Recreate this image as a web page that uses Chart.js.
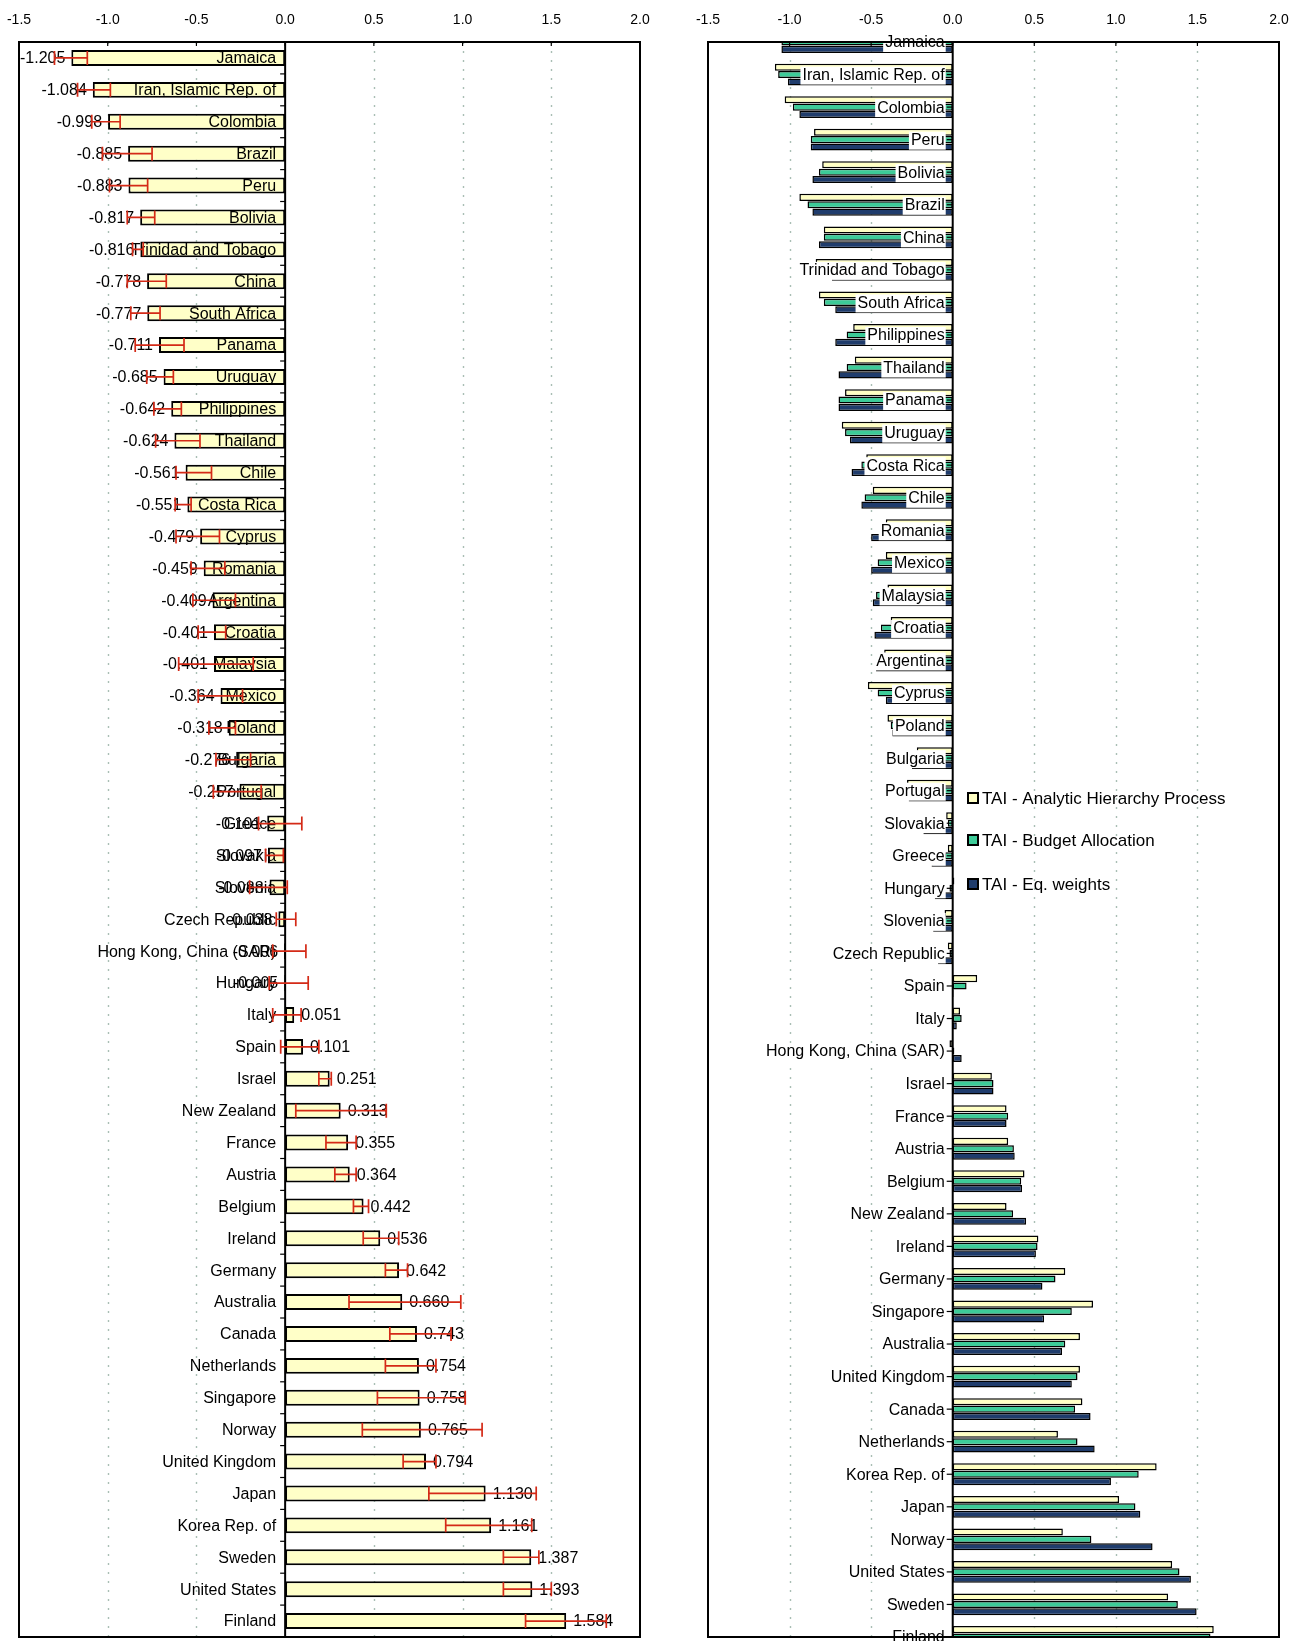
<!DOCTYPE html>
<html>
<head>
<meta charset="utf-8">
<title>Technology Achievement Index</title>
<script src="https://cdn.jsdelivr.net/npm/chart.js@4.4.1/dist/chart.umd.min.js"></script>
<style>
  html, body { margin: 0; padding: 0; background: #ffffff; }
  #wrap { position: relative; width: 1308px; height: 1641px; overflow: hidden; }
  canvas { position: absolute; top: 0; }
  #left { left: 0; }
  #right { left: 654px; }
</style>
</head>
<body>
<div id="wrap">
  <canvas id="left" width="654" height="1641"></canvas>
  <canvas id="right" width="654" height="1641"></canvas>
</div>
<script>
// ---- Panel 1: composite TAI with range ----
const leftCountries = [
  'Jamaica', 'Iran, Islamic Rep. of', 'Colombia', 'Brazil', 'Peru', 'Bolivia',
  'Trinidad and Tobago', 'China', 'South Africa', 'Panama', 'Uruguay', 'Philippines',
  'Thailand', 'Chile', 'Costa Rica', 'Cyprus', 'Romania', 'Argentina', 'Croatia',
  'Malaysia', 'Mexico', 'Poland', 'Bulgaria', 'Portugal', 'Greece', 'Slovakia',
  'Slovenia', 'Czech Republic', 'Hong Kong, China (SAR)', 'Hungary', 'Italy', 'Spain',
  'Israel', 'New Zealand', 'France', 'Austria', 'Belgium', 'Ireland', 'Germany',
  'Australia', 'Canada', 'Netherlands', 'Singapore', 'Norway', 'United Kingdom',
  'Japan', 'Korea Rep. of', 'Sweden', 'United States', 'Finland'
];
const taiValues = [
  -1.205, -1.084, -0.998, -0.885, -0.883, -0.817,
  -0.816, -0.778, -0.777, -0.711, -0.685, -0.642,
  -0.624, -0.561, -0.551, -0.479, -0.459, -0.409, -0.401,
  -0.401, -0.364, -0.318, -0.276, -0.257, -0.101, -0.097,
  -0.088, -0.038, -0.006, -0.005, 0.051, 0.101,
  0.251, 0.313, 0.355, 0.364, 0.442, 0.536, 0.642,
  0.660, 0.743, 0.754, 0.758, 0.765, 0.794,
  1.130, 1.161, 1.387, 1.393, 1.584
];
const taiLow = [
  -1.30, -1.17, -1.09, -1.03, -0.99, -0.89,
  -0.86, -0.89, -0.87, -0.845, -0.78, -0.74,
  -0.73, -0.615, -0.62, -0.615, -0.53, -0.52, -0.49,
  -0.60, -0.49, -0.43, -0.39, -0.405, -0.15, -0.11,
  -0.20, -0.05, -0.07, -0.09, -0.07, -0.025,
  0.19, 0.06, 0.23, 0.28, 0.385, 0.44, 0.565,
  0.36, 0.59, 0.565, 0.52, 0.435, 0.665,
  0.81, 0.905, 1.23, 1.23, 1.355
];
const taiHigh = [
  -1.115, -0.985, -0.93, -0.75, -0.775, -0.735,
  -0.80, -0.67, -0.705, -0.57, -0.63, -0.585,
  -0.48, -0.415, -0.53, -0.37, -0.34, -0.28, -0.335,
  -0.18, -0.24, -0.28, -0.195, -0.135, 0.094, -0.01,
  0.012, 0.06, 0.117, 0.13, 0.09, 0.19,
  0.26, 0.57, 0.40, 0.40, 0.47, 0.64, 0.69,
  0.99, 0.935, 0.85, 1.015, 1.11, 0.85,
  1.415, 1.39, 1.43, 1.50, 1.81
];

// ---- Panel 2: TAI under three weighting schemes ----
const rightCountries = [
  'Jamaica', 'Iran, Islamic Rep. of', 'Colombia', 'Peru', 'Bolivia', 'Brazil', 'China',
  'Trinidad and Tobago', 'South Africa', 'Philippines', 'Thailand', 'Panama', 'Uruguay',
  'Costa Rica', 'Chile', 'Romania', 'Mexico', 'Malaysia', 'Croatia', 'Argentina',
  'Cyprus', 'Poland', 'Bulgaria', 'Portugal', 'Slovakia', 'Greece', 'Hungary',
  'Slovenia', 'Czech Republic', 'Spain', 'Italy', 'Hong Kong, China (SAR)', 'Israel',
  'France', 'Austria', 'Belgium', 'New Zealand', 'Ireland', 'Germany', 'Singapore',
  'Australia', 'United Kingdom', 'Canada', 'Netherlands', 'Korea Rep. of', 'Japan',
  'Norway', 'United States', 'Sweden', 'Finland'
];
const ahpValues = [
  -1.18, -1.09, -1.03, -0.85, -0.80, -0.94, -0.79,
  -0.84, -0.82, -0.61, -0.60, -0.66, -0.68,
  -0.53, -0.49, -0.41, -0.41, -0.40, -0.38, -0.42,
  -0.52, -0.40, -0.22, -0.28, -0.04, -0.03, 0.01,
  -0.05, -0.03, 0.15, 0.045, -0.02, 0.24,
  0.33, 0.34, 0.44, 0.33, 0.525, 0.69, 0.86,
  0.78, 0.78, 0.795, 0.645, 1.25, 1.02,
  0.675, 1.345, 1.32, 1.60
];
const budgetValues = [
  -1.05, -1.07, -0.98, -0.87, -0.82, -0.89, -0.79,
  -0.80, -0.79, -0.65, -0.65, -0.70, -0.66,
  -0.56, -0.54, -0.45, -0.46, -0.47, -0.44, -0.45,
  -0.46, -0.38, -0.24, -0.27, -0.03, -0.05, -0.02,
  -0.06, -0.02, 0.085, 0.055, 0.01, 0.25,
  0.34, 0.375, 0.42, 0.37, 0.52, 0.63, 0.73,
  0.69, 0.765, 0.75, 0.765, 1.14, 1.12,
  0.85, 1.39, 1.38, 1.58
];
const eqWeightValues = [
  -1.05, -1.01, -0.94, -0.87, -0.86, -0.86, -0.82,
  -0.74, -0.72, -0.72, -0.70, -0.70, -0.63,
  -0.62, -0.56, -0.50, -0.50, -0.49, -0.48, -0.47,
  -0.41, -0.37, -0.25, -0.27, -0.18, -0.13, -0.11,
  -0.12, -0.09, 0.005, 0.025, 0.055, 0.25,
  0.33, 0.38, 0.425, 0.45, 0.51, 0.55, 0.56,
  0.67, 0.73, 0.845, 0.87, 0.97, 1.15,
  1.225, 1.46, 1.495, 1.62
];
const seriesNames = ['TAI - Analytic Hierarchy Process', 'TAI - Budget Allocation', 'TAI - Eq. weights'];
const tickLabels = ['-1.5', '-1.0', '-0.5', '0.0', '0.5', '1.0', '1.5', '2.0'];

const FONT = '"Liberation Sans", Arial, sans-serif';
const X_MIN = -1.5, X_MAX = 2.0;

function topAxis() {
  return {
    type: 'linear',
    position: 'top',
    min: X_MIN,
    max: X_MAX,
    afterFit(scale) {
      scale.height = 42;
      scale.paddingLeft = 0;
      scale.paddingRight = 0;
    },
    afterBuildTicks(scale) {
      scale.ticks = tickLabels.map(t => ({ value: parseFloat(t) }));
    },
    ticks: {
      color: '#000',
      font: { family: FONT, size: 14 },
      padding: 13,
      maxRotation: 0,
      callback: (v) => tickLabels.find(t => parseFloat(t) === v)
    },
    grid: { display: false, drawTicks: false },
    border: { display: false }
  };
}

function drawDottedGrid(chart) {
  const { ctx, chartArea: a, scales: { x } } = chart;
  ctx.save();
  ctx.strokeStyle = '#a9beb4';
  ctx.lineWidth = 1.4;
  ctx.setLineDash([2, 7]);
  tickLabels.forEach(t => {
    const v = parseFloat(t);
    if (v === 0 || v === X_MIN || v === X_MAX) return;
    const px = Math.round(x.getPixelForValue(v)) + 0.5;
    ctx.beginPath();
    ctx.moveTo(px, a.top);
    ctx.lineTo(px, a.bottom);
    ctx.stroke();
  });
  ctx.restore();
}

function drawFrame(chart, lw) {
  const { ctx, chartArea: a, scales: { x } } = chart;
  ctx.save();
  ctx.strokeStyle = '#000';
  ctx.lineWidth = lw;
  ctx.strokeRect(a.left, a.top, a.right - a.left, a.bottom - a.top);
  // short tick marks under the top edge
  ctx.lineWidth = 1.2;
  tickLabels.forEach(t => {
    const px = x.getPixelForValue(parseFloat(t));
    ctx.beginPath();
    ctx.moveTo(px, a.top);
    ctx.lineTo(px, a.top + 4);
    ctx.stroke();
  });
  ctx.restore();
}

// ---------- left chart ----------
const leftDecor = {
  id: 'leftDecor',
  beforeDatasetsDraw(chart) { drawDottedGrid(chart); },
  afterDatasetsDraw(chart) {
    const { ctx, chartArea: a, scales: { x, y } } = chart;
    const x0 = x.getPixelForValue(0);
    const step = (y.getPixelForValue(1) - y.getPixelForValue(0));
    ctx.save();

    // zero axis with ticks between categories
    ctx.strokeStyle = '#000';
    ctx.lineWidth = 2;
    ctx.beginPath();
    ctx.moveTo(x0, a.top);
    ctx.lineTo(x0, a.bottom);
    ctx.stroke();
    ctx.lineWidth = 1.2;
    for (let i = 0; i <= leftCountries.length; i++) {
      const yy = y.getPixelForValue(0) - step / 2 + i * step;
      ctx.beginPath();
      ctx.moveTo(x0 - 5, yy);
      ctx.lineTo(x0, yy);
      ctx.stroke();
    }

    // labels
    ctx.fillStyle = '#000';
    ctx.font = '16px ' + FONT;
    ctx.textBaseline = 'middle';
    leftCountries.forEach((c, i) => {
      const yc = y.getPixelForValue(i) + 1;
      ctx.textAlign = 'right';
      ctx.fillText(c, x0 - 9, yc);
      const v = taiValues[i];
      const xe = x.getPixelForValue(v);
      if (v < 0) {
        ctx.textAlign = 'right';
        ctx.fillText(v.toFixed(3), xe - 6, yc);
      } else {
        ctx.textAlign = 'left';
        ctx.fillText(v.toFixed(3), xe + 7, yc);
      }
    });

    // range bars
    ctx.strokeStyle = '#d42a17';
    ctx.lineWidth = 1.7;
    taiValues.forEach((v, i) => {
      const yc = y.getPixelForValue(i);
      const xl = x.getPixelForValue(taiLow[i]);
      const xh = x.getPixelForValue(taiHigh[i]);
      ctx.beginPath();
      ctx.moveTo(xl, yc); ctx.lineTo(xh, yc);
      ctx.moveTo(xl, yc - 7); ctx.lineTo(xl, yc + 7);
      ctx.moveTo(xh, yc - 7); ctx.lineTo(xh, yc + 7);
      ctx.stroke();
    });
    ctx.restore();
    drawFrame(chart, 2);
  }
};

new Chart(document.getElementById('left'), {
  type: 'bar',
  data: {
    labels: leftCountries,
    datasets: [{
      label: 'TAI',
      data: taiValues,
      backgroundColor: '#ffffc8',
      borderColor: '#000',
      borderWidth: 2,
      borderSkipped: false,
      barPercentage: 0.5,
      categoryPercentage: 1.0
    }]
  },
  options: {
    indexAxis: 'y',
    responsive: false,
    devicePixelRatio: 1,
    animation: false,
    layout: { padding: { left: 19, right: 14, top: 0, bottom: 4 } },
    plugins: { legend: { display: false }, tooltip: { enabled: false } },
    scales: {
      x: topAxis(),
      y: { type: 'category', display: false, offset: true }
    }
  },
  plugins: [leftDecor]
});

// ---------- right chart ----------
const rightDecor = {
  id: 'rightDecor',
  beforeDatasetsDraw(chart) { drawDottedGrid(chart); },
  afterDatasetsDraw(chart) {
    const { ctx, chartArea: a, scales: { x, y } } = chart;
    const x0 = x.getPixelForValue(0);
    ctx.save();
    ctx.strokeStyle = '#000';
    ctx.lineWidth = 2;
    ctx.beginPath();
    ctx.moveTo(x0, a.top);
    ctx.lineTo(x0, a.bottom);
    ctx.stroke();

    ctx.font = '16px ' + FONT;
    ctx.textBaseline = 'middle';
    ctx.textAlign = 'right';
    rightCountries.forEach((c, i) => {
      const yc = y.getPixelForValue(i);
      ctx.lineWidth = 1.2;
      ctx.strokeStyle = '#000';
      ctx.beginPath();
      ctx.moveTo(x0 - 6, yc);
      ctx.lineTo(x0, yc);
      ctx.stroke();
      const w = ctx.measureText(c).width;
      const ty = yc + 1;
      ctx.fillStyle = '#fff';
      ctx.fillRect(x0 - 8 - w - 2, ty - 9, w + 3, 18);
      ctx.fillStyle = '#000';
      ctx.fillText(c, x0 - 8, ty);
    });

    // legend
    const lx = 314;
    const rows = [798, 840, 884];
    ctx.textAlign = 'left';
    ctx.font = '17px ' + FONT;
    chart.data.datasets.forEach((ds, i) => {
      const yy = rows[i];
      ctx.fillStyle = ds.backgroundColor;
      ctx.fillRect(lx, yy - 5, 10, 10);
      ctx.lineWidth = 2;
      ctx.strokeStyle = '#000';
      ctx.strokeRect(lx, yy - 5, 10, 10);
      ctx.fillStyle = '#000';
      ctx.fillText(ds.label, lx + 14, yy + 1);
    });
    ctx.restore();
    drawFrame(chart, 2);
  }
};

const barColors = ['#ffffc4', '#3dcb98', '#1f3c6c'];
const seriesData = [ahpValues, budgetValues, eqWeightValues];

new Chart(document.getElementById('right'), {
  type: 'bar',
  data: {
    labels: rightCountries,
    datasets: seriesNames.map((name, i) => ({
      label: name,
      data: seriesData[i],
      backgroundColor: barColors[i],
      borderColor: '#000',
      borderWidth: 1.5,
      borderSkipped: false,
      barPercentage: 0.96,
      categoryPercentage: 0.68
    }))
  },
  options: {
    indexAxis: 'y',
    responsive: false,
    devicePixelRatio: 1,
    animation: false,
    layout: { padding: { left: 54, right: 29, top: 0, bottom: 4 } },
    plugins: { legend: { display: false }, tooltip: { enabled: false } },
    scales: {
      x: topAxis(),
      y: { type: 'category', display: false, offset: false }
    }
  },
  plugins: [rightDecor]
});
</script>
</body>
</html>
